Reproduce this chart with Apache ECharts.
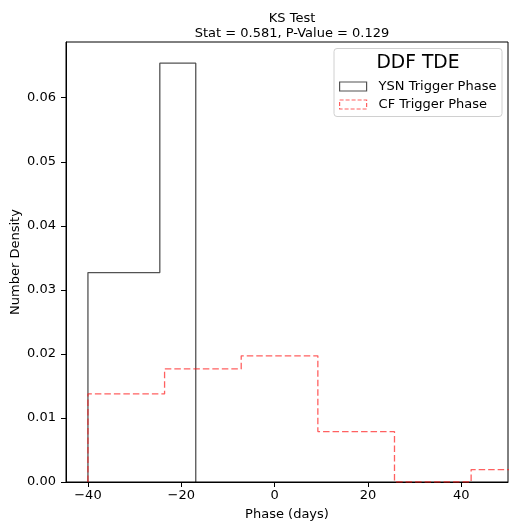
<!DOCTYPE html>
<html>
<head>
<meta charset="utf-8">
<script src="https://cdn.jsdelivr.net/npm/echarts@6/dist/echarts.min.js"></script>
<style>html,body{margin:0;padding:0;background:#fff}#c{width:509px;height:528px}</style>
</head>
<body>
<div id="c"></div>
<script>
// Data
const titleLines = ['KS Test', 'Stat = 0.581, P-Value = 0.129'];
const legendTitle = 'DDF TDE';
const seriesNames = ['YSN Trigger Phase', 'CF Trigger Phase'];
const ysnEdges = [-40, -32.3, -24.6, -16.9];
const ysnHeights = [0.0327, 0.0327, 0.0654];
const cfEdges = [-40, -23.58, -7.16, 9.26, 25.68, 42.10, 58.52];
const cfHeights = [0.01375, 0.01766, 0.0197, 0.00788, 0.0, 0.00194];
const xTicks = [-40, -20, 0, 20, 40];
const yTicks = [0, 0.01, 0.02, 0.03, 0.04, 0.05, 0.06];
const xRange = [-44.7, 50];
const yRange = [0, 0.0687];

function stepPath(edges, heights) {
  const pts = [[edges[0], 0]];
  for (let i = 0; i < heights.length; i++) {
    pts.push([edges[i], heights[i]]);
    pts.push([edges[i + 1], heights[i]]);
  }
  pts.push([edges[edges.length - 1], 0]);
  return pts;
}

const FONT = 'DejaVu Sans';
const ysnColor = 'rgba(0,0,0,0.68)';
const cfColor = 'rgba(255,20,20,0.68)';

const chart = echarts.init(document.getElementById('c'), null, {renderer: 'canvas'});
chart.setOption({
  animation: false,
  backgroundColor: '#fff',
  title: {
    text: titleLines.join('\n'),
    left: 287, top: 6, textAlign: 'center',
    textStyle: {fontFamily: FONT, fontSize: 13, fontWeight: 'normal', color: '#000', lineHeight: 15}
  },
  grid: {left: 66, top: 42, right: 1, bottom: 46, show: true, borderColor: '#000', borderWidth: 1,
    backgroundColor: 'transparent', containLabel: false, outerBoundsMode: 'none'},
  xAxis: {
    type: 'value', min: xRange[0], max: xRange[1],
    name: 'Phase (days)', nameLocation: 'middle', nameGap: 26, nameMoveOverlap: false,
    nameTextStyle: {fontFamily: FONT, fontSize: 13, color: '#000'},
    axisLine: {show: true, onZero: false, lineStyle: {color: '#000', width: 1}},
    axisTick: {show: true, length: 5, lineStyle: {color: '#000', width: 1}, customValues: xTicks},
    axisLabel: {fontFamily: FONT, fontSize: 13, color: '#000', margin: 7, customValues: xTicks,
      formatter: v => String(v).replace('-', '\u2212')},
    splitLine: {show: false}
  },
  yAxis: {
    type: 'value', min: yRange[0], max: yRange[1],
    name: 'Number Density', nameLocation: 'middle', nameGap: 44, nameMoveOverlap: false,
    nameTextStyle: {fontFamily: FONT, fontSize: 13, color: '#000'},
    axisLine: {show: true, onZero: false, lineStyle: {color: '#000', width: 1}},
    axisTick: {show: true, length: 5, lineStyle: {color: '#000', width: 1}, customValues: yTicks},
    axisLabel: {fontFamily: FONT, fontSize: 13, color: '#000', margin: 10, customValues: yTicks,
      formatter: v => Number(v).toFixed(2)},
    splitLine: {show: false}
  },
  legend: {
    orient: 'vertical', left: 339, top: 80, padding: 0, itemWidth: 27, itemHeight: 9, itemGap: 5,
    icon: 'rect',
    textStyle: {fontFamily: FONT, fontSize: 13, color: '#000', padding: [0, 0, 0, 7]},
    data: [
      {name: seriesNames[0], icon: 'rect', itemStyle: {color: 'rgba(255,255,255,0)', borderColor: ysnColor, borderWidth: 1.2}},
      {name: seriesNames[1], icon: 'rect', itemStyle: {color: 'rgba(255,255,255,0)', borderColor: cfColor, borderWidth: 1.2, borderType: [4, 2]}}
    ]
  },
  graphic: [
    {type: 'rect', z: 0, shape: {x: 334, y: 48.5, width: 168, height: 68, r: 3},
      style: {fill: 'rgba(255,255,255,0.8)', stroke: '#d0d0d0', lineWidth: 1}},
    {type: 'text', z: 1, x: 418, y: 63,
      style: {text: legendTitle, fontFamily: FONT, fontSize: 18.7, fill: '#000', align: 'center', verticalAlign: 'middle'}}
  ],
  series: [
    {name: seriesNames[0], type: 'line', data: stepPath(ysnEdges, ysnHeights), symbol: 'none', clip: true,
      lineStyle: {color: ysnColor, width: 1.3}, itemStyle: {color: ysnColor}, z: 3},
    {name: seriesNames[1], type: 'line', data: stepPath(cfEdges, cfHeights), symbol: 'none', clip: true,
      lineStyle: {color: cfColor, width: 1.3, type: [6.5, 3]}, itemStyle: {color: cfColor}, z: 4}
  ]
});
</script>
</body>
</html>
